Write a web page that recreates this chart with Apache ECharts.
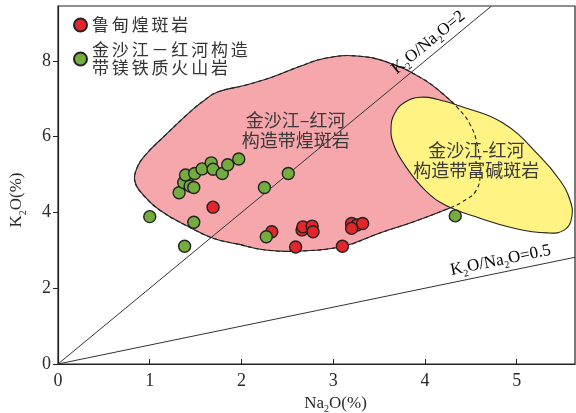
<!DOCTYPE html>
<html>
<head>
<meta charset="utf-8">
<script src="https://cdn.jsdelivr.net/npm/echarts@6/dist/echarts.min.js"></script>
<style>
html,body{margin:0;padding:0;background:#fff;}
#chart{width:576px;height:413px;}
</style>
</head>
<body>
<div id="chart"></div>
<script>
// Na2O (%), K2O (%) of the Ludian lamprophyres
const ludianLamprophyre = [
  [1.69, 4.14], [2.33, 3.49], [2.59, 3.09], [2.66, 3.54], [2.67, 3.62],
  [2.77, 3.64], [2.78, 3.49], [3.10, 3.11], [3.20, 3.71], [3.26, 3.67],
  [3.32, 3.71], [3.20, 3.58]
];
// Na2O (%), K2O (%) of the Jinshajiang–Red River mafic volcanics
const jinshaMaficVolcanics = [
  [1.00, 3.89], [1.38, 3.11], [1.48, 3.74], [1.32, 4.52], [1.37, 4.79],
  [1.39, 4.99], [1.44, 4.70], [1.48, 4.66], [1.49, 5.03], [1.57, 5.15],
  [1.67, 5.31], [1.69, 5.14], [1.79, 5.03], [1.85, 5.26], [1.97, 5.41],
  [2.25, 4.66], [2.27, 3.36], [2.51, 5.03], [4.33, 3.91]
];
// K2O/Na2O reference ratios
const ratioLines = [2, 0.5];
// Field of the Jinshajiang–Red River belt lamprophyres (Na2O, K2O)
const lamprophyreField = [
  [0.84, 4.80], [0.86, 5.17], [0.95, 5.51], [1.17, 6.04], [1.46, 6.70],
  [1.60, 6.97], [1.74, 7.18], [2.04, 7.36], [2.33, 7.57], [2.64, 7.86],
  [2.91, 8.07], [3.26, 8.13], [3.62, 7.94], [3.98, 7.52], [4.20, 7.12],
  [4.35, 6.78], [4.49, 6.33], [4.57, 5.78], [4.60, 5.12], [4.56, 4.59],
  [4.40, 4.27], [4.27, 4.12], [3.87, 3.75], [3.51, 3.46], [3.11, 3.11],
  [2.61, 2.98], [2.26, 3.01], [1.95, 3.17], [1.69, 3.32], [1.41, 3.64],
  [1.11, 4.06], [0.93, 4.46]
];
// Field of the Jinshajiang–Red River belt alkali-rich porphyries (Na2O, K2O)
const alkaliPorphyryField = [
  [3.63, 6.23], [3.67, 6.62], [3.78, 6.91], [3.95, 7.04], [4.13, 6.99],
  [4.38, 6.81], [4.85, 6.36], [5.25, 5.49], [5.47, 4.85], [5.58, 4.33],
  [5.60, 3.88], [5.52, 3.54], [5.33, 3.46], [4.96, 3.59], [4.60, 3.85],
  [4.24, 4.17], [4.00, 4.59], [3.78, 5.25], [3.66, 5.78]
];

const X_MAX = 5.635, Y_MAX = 9.45;
const SERIF = '"Liberation Serif", "Times New Roman", serif';
const CJK = '"Noto Sans CJK SC", sans-serif';
const INK = '#2a2a2a';

const subRich = {
  m: { fontFamily: SERIF, fontSize: 17, color: INK, lineHeight: 22, verticalAlign: 'middle' },
  s: { fontFamily: SERIF, fontSize: 10, color: INK, lineHeight: 12, verticalAlign: 'bottom' }
};

// spread CJK glyphs a little, keeping line breaks
const spaced = s => s.split('\n').map(l => l.split('').join('\u2006')).join('\n');

function fieldSeries(points, fill, dashed, z) {
  return {
    type: 'custom', coordinateSystem: 'cartesian2d', silent: true, clip: false, z: z,
    data: [[0, 0]],
    renderItem: function (params, api) {
      return {
        type: 'polygon',
        shape: { points: points.map(p => api.coord(p)), smooth: 0.45 },
        style: {
          fill: fill || 'none', stroke: '#222', lineWidth: 1.1,
          lineDash: dashed ? [4, 3] : null
        }
      };
    }
  };
}

function ratioSeries(ratio, labelX, z) {
  return {
    type: 'custom', coordinateSystem: 'cartesian2d', silent: true, clip: true, z: z,
    data: [[0, 0]],
    renderItem: function (params, api) {
      const xEnd = Math.min(X_MAX, Y_MAX / ratio);
      const a = api.coord([0, 0]);
      const b = api.coord([xEnd, ratio * xEnd]);
      const p = api.coord([labelX, ratio * labelX]);
      const ang = Math.atan2(a[1] - b[1], b[0] - a[0]);
      return {
        type: 'group',
        children: [
          { type: 'line', shape: { x1: a[0], y1: a[1], x2: b[0], y2: b[1] },
            style: { stroke: '#333', lineWidth: 1 } },
          { type: 'text', x: p[0], y: p[1], rotation: ang,
            style: {
              text: '{m|K}{s|2}{m|O/Na}{s|2}{m|O=' + ratio + '}',
              rich: subRich, align: 'center', verticalAlign: 'bottom',
              padding: [0, 0, 1, 0]
            } }
        ]
      };
    }
  };
}

function fieldLabel(anchor, text, z) {
  return {
    type: 'custom', coordinateSystem: 'cartesian2d', silent: true, clip: false, z: z,
    data: [[0, 0]],
    renderItem: function (params, api) {
      const p = api.coord(anchor);
      return {
        type: 'text', x: p[0], y: p[1],
        style: {
          text: text, fontFamily: CJK, fontSize: 18, fill: '#3a3a3a',
          lineHeight: 20, align: 'center', verticalAlign: 'middle'
        }
      };
    }
  };
}

const chart = echarts.init(document.getElementById('chart'), null, { renderer: 'canvas' });
chart.setOption({
  animation: false,
  backgroundColor: '#fff',
  grid: {
    left: 58, right: 1, top: 6, bottom: 49, containLabel: false, outerBoundsMode: 'none',
    show: true, borderColor: '#222', borderWidth: 1.2
  },
  legend: {
    orient: 'vertical', left: 68, top: 11, itemWidth: 13, itemHeight: 13, itemGap: 7,
    icon: 'circle',
    formatter: name => spaced(name),
    textStyle: { fontFamily: CJK, fontSize: 17, color: '#333', lineHeight: 18 },
    data: ['鲁甸煌斑岩', '金沙江－红河构造\n带镁铁质火山岩']
  },
  xAxis: {
    type: 'value', min: 0, max: X_MAX, interval: 1,
    name: '{m|Na}{s|2}{m|O(%)}', nameLocation: 'middle', nameGap: 22,
    nameTextStyle: { rich: subRich, padding: [0, 0, 0, 38] },
    axisLine: { lineStyle: { color: '#222', width: 1.2 } },
    axisTick: { inside: true, length: 5, lineStyle: { color: '#222' } },
    axisLabel: {
      margin: 8, fontFamily: SERIF, fontSize: 18, color: INK, showMaxLabel: false,
      formatter: v => (Math.abs(v - Math.round(v)) < 1e-9 ? String(Math.round(v)) : '')
    },
    splitLine: { show: false }
  },
  yAxis: {
    type: 'value', min: 0, max: Y_MAX, interval: 2,
    name: '{m|K}{s|2}{m|O(%)}', nameLocation: 'middle', nameGap: 30, nameRotate: 90,
    nameTextStyle: { rich: subRich, padding: [0, 30, 0, 0] },
    axisLine: { lineStyle: { color: '#222', width: 1.2 } },
    axisTick: { inside: false, length: 5, lineStyle: { color: '#222' } },
    axisLabel: {
      margin: 7, fontFamily: SERIF, fontSize: 18, color: INK, showMaxLabel: false,
      formatter: v => (Math.abs(v - Math.round(v)) < 1e-9 ? String(Math.round(v)) : '')
    },
    splitLine: { show: false }
  },
  series: [
    fieldSeries(lamprophyreField, '#F5A7AC', false, 1),
    ratioSeries(ratioLines[0], 4.12, 2),
    ratioSeries(ratioLines[1], 4.85, 2),
    fieldSeries(alkaliPorphyryField, '#FFF384', false, 3),
    fieldSeries(lamprophyreField, null, true, 4),
    fieldLabel([2.59, 6.17], '金沙江–红河\n构造带煌斑岩', 5),
    fieldLabel([4.56, 5.37], '金沙江-红河\n构造带富碱斑岩', 5),
    {
      name: '鲁甸煌斑岩', type: 'scatter', z: 6, symbol: 'circle', symbolSize: 12,
      itemStyle: { color: '#E3262B', borderColor: '#222', borderWidth: 1.4, opacity: 1 },
      data: ludianLamprophyre
    },
    {
      name: '金沙江－红河构造\n带镁铁质火山岩', type: 'scatter', z: 6, symbol: 'circle', symbolSize: 12,
      itemStyle: { color: '#74AC3E', borderColor: '#222', borderWidth: 1.4, opacity: 1 },
      data: jinshaMaficVolcanics
    }
  ]
});
</script>
</body>
</html>
